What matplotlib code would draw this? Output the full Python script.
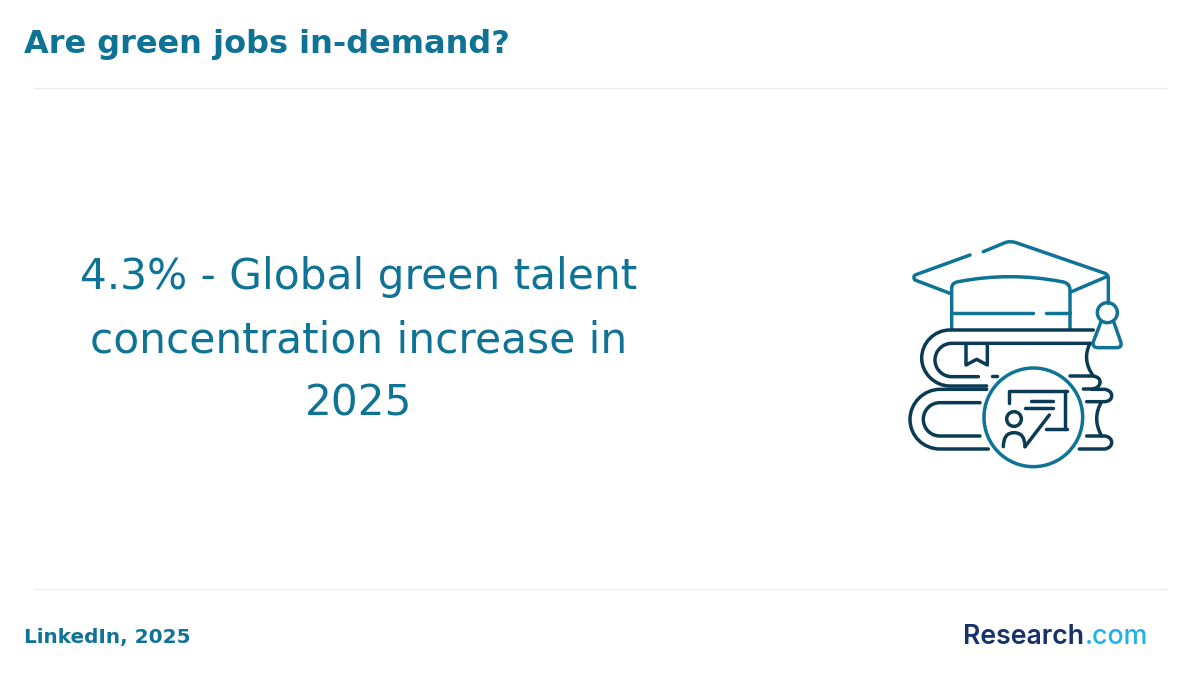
import matplotlib
matplotlib.use("Agg")
import matplotlib.pyplot as plt
from matplotlib.path import Path
from matplotlib.patches import PathPatch, Circle

title = "Are green jobs in-demand?"
headline = "4.3% - Global green talent\nconcentration increase in\n2025"
source = "LinkedIn, 2025"
logo_left = "Research"
logo_right = ".com"

TEAL = "#0f7396"
DARK = "#0b3a55"
RULE = "#ebebeb"
NAVY = "#17316b"
SKY = "#1fb2e6"
LW = 2.5

W, H = 1200, 680


def stroke(ax, color, start, *segs):
    # each seg: 1 point = line, 2 = quadratic, 3 = cubic
    verts = [start]
    codes = [Path.MOVETO]
    kinds = {1: Path.LINETO, 2: Path.CURVE3, 3: Path.CURVE4}
    for seg in segs:
        verts.extend(seg)
        codes.extend([kinds[len(seg)]] * len(seg))
    ax.add_patch(PathPatch(Path(verts, codes), fill=False, edgecolor=color, lw=LW,
                           capstyle="round", joinstyle="round"))


def draw_icon(ax):
    # coordinates in a 750x735 icon box
    # cap
    stroke(ax, TEAL, (240, 75), [(75, 135)], [(68, 142), (75, 150)], [(180, 190)])
    stroke(ax, TEAL, (280, 65), [(345, 38)], [(360, 32), (378, 38)], [(645, 130)],
           [(655, 134), (655, 145)], [(655, 220)])
    stroke(ax, TEAL, (650, 140), [(545, 185)])
    stroke(ax, TEAL, (185, 295), [(185, 175)], [(185, 158), (205, 155)],
           [(360, 125), (515, 155)], [(540, 158), (540, 180)], [(540, 295)])
    stroke(ax, TEAL, (185, 248), [(430, 248)])
    stroke(ax, TEAL, (468, 248), [(540, 248)])
    # tassel
    ax.add_patch(Circle((652, 248), 30, fill=False, edgecolor=TEAL, lw=LW))
    stroke(ax, TEAL, (632, 278), [(610, 335)], [(605, 353), (625, 353)], [(680, 353)],
           [(698, 353), (692, 335)], [(672, 278)])

    # top book
    stroke(ax, DARK, (610, 300), [(180, 300)], [(133, 300), (95, 338), (95, 385)],
           [(95, 428), (133, 468), (180, 468)], [(290, 468)])
    stroke(ax, DARK, (600, 340), [(185, 340)], [(158, 340), (135, 362), (135, 390)],
           [(135, 418), (158, 440), (185, 440)], [(265, 440)])
    stroke(ax, DARK, (600, 340), [(575, 390), (610, 438)])
    stroke(ax, DARK, (540, 438), [(610, 438)], [(632, 442), (630, 458)], [(628, 475), (605, 477)], [(580, 477)])
    stroke(ax, DARK, (305, 438), [(322, 438)])
    # bookmark
    stroke(ax, DARK, (228, 345), [(228, 405)], [(260, 388)], [(292, 405)], [(292, 345)])

    # bottom book
    stroke(ax, DARK, (290, 478), [(150, 478)], [(100, 478), (60, 520), (60, 568)],
           [(60, 618), (100, 657), (150, 657)], [(295, 657)])
    stroke(ax, DARK, (270, 518), [(150, 518)], [(122, 518), (100, 540), (100, 568)],
           [(100, 596), (122, 618), (150, 618)], [(270, 618)])
    stroke(ax, DARK, (605, 478), [(645, 478)], [(665, 482), (665, 497)], [(665, 513), (645, 515)], [(590, 515)])
    stroke(ax, DARK, (635, 515), [(605, 565), (635, 618)])
    stroke(ax, DARK, (590, 618), [(645, 618)], [(665, 622), (665, 637)], [(665, 653), (645, 657)], [(568, 657)])

    # badge
    ax.add_patch(Circle((430, 562), 148, facecolor="white", edgecolor=TEAL, lw=LW, zorder=3))
    for seg in [
        ((358, 520), [(358, 482)], [(530, 482)]),
        ((525, 482), [(525, 597)]),
        ((468, 597), [(532, 597)]),
        ((422, 513), [(490, 513)]),
        ((405, 535), [(490, 535)]),
        ((340, 650), [(340, 608), (372, 608)], [(405, 608), (405, 650)]),
        ((405, 650), [(478, 555)]),
    ]:
        start, *rest = seg
        stroke(ax, DARK, start, *rest)
    for p in ax.patches[-7:]:
        p.set_zorder(4)
    ax.add_patch(Circle((372, 567), 22, fill=False, edgecolor=DARK, lw=LW, zorder=4))


fig = plt.figure(figsize=(12, 6.8), dpi=100, facecolor="white")
ax = fig.add_axes([0, 0, 1, 1])
ax.set_xlim(0, W)
ax.set_ylim(H, 0)
ax.axis("off")

ax.text(24, 44, title, fontsize=23, fontweight="bold", color=TEAL, va="center", ha="left")
ax.plot([34, 1166], [88, 88], color=RULE, lw=1)
ax.plot([34, 1166], [589, 589], color=RULE, lw=1)
ax.text(358.5, 340.5, headline, fontsize=30.4, color=TEAL, ha="center", va="center", linespacing=1.64)
ax.text(24, 637, source, fontsize=14.4, fontweight="bold", color=TEAL, va="center", ha="left")

# logo
ax.text(963, 637, logo_left, fontsize=19.2, fontfamily="Inter", fontweight="semibold",
        color=NAVY, va="center", ha="left")
ax.text(1148, 637, logo_right, fontsize=19.2, fontfamily="Inter", fontweight="medium",
        color=SKY, va="center", ha="right")

icon_ax = fig.add_axes([890 / W, 1 - (230 + 245) / H, 250 / W, 245 / H])
icon_ax.set_xlim(0, 750)
icon_ax.set_ylim(735, 0)
icon_ax.axis("off")
draw_icon(icon_ax)

fig.savefig("out.png", dpi=100)
